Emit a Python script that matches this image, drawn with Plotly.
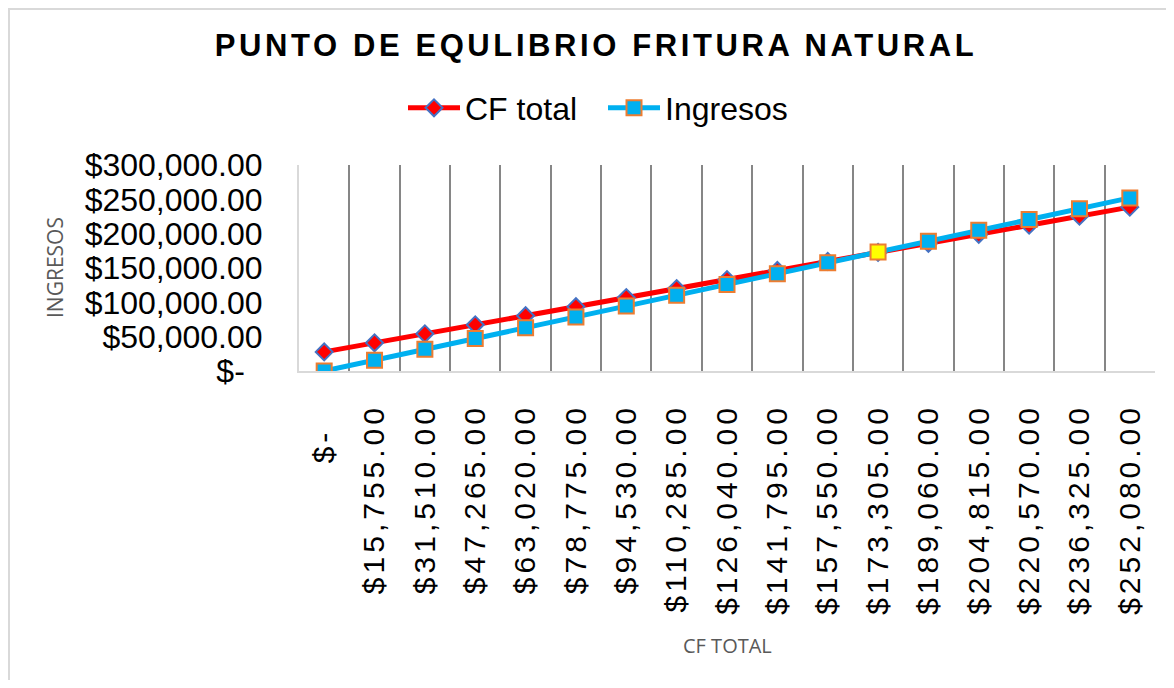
import plotly.graph_objects as go

# ---- data ----
categories = ["$-", "$15,755.00", "$31,510.00", "$47,265.00", "$63,020.00", "$78,775.00",
              "$94,530.00", "$110,285.00", "$126,040.00", "$141,795.00", "$157,550.00",
              "$173,305.00", "$189,060.00", "$204,815.00", "$220,570.00", "$236,325.00",
              "$252,080.00"]
cf_total = [27800, 41000, 54200, 67300, 80500, 93700, 106900, 120000, 133200, 146400,
            159600, 172700, 185900, 199100, 212300, 225400, 238600]
ingresos = [0, 15755, 31510, 47265, 63020, 78775, 94530, 110285, 126040, 141795,
            157550, 173305, 189060, 204815, 220570, 236325, 252080]
y_tickvals = [0, 50000, 100000, 150000, 200000, 250000, 300000]
y_ticktext = ["$-", "$50,000.00", "$100,000.00", "$150,000.00", "$200,000.00",
              "$250,000.00", "$300,000.00"]
breakeven_index = 11

FONT = "Liberation Sans, Arial, sans-serif"

ing_colors = ["#00B0F0"] * len(ingresos)
ing_colors[breakeven_index] = "#FFFF00"

x_ticktext = []
for c in categories:
    t = c + ("\u00a0\u00a0" if c == "$-" else "")
    x_ticktext.append(f"<span style='letter-spacing:4px'>{t}</span>")
y_ticktext_disp = [t + ("\u00a0\u00a0" if t == "$-" else "") for t in y_ticktext]

fig = go.Figure()
fig.add_trace(go.Scatter(
    x=categories, y=cf_total, name="CF total", mode="lines+markers",
    line=dict(color="#FF0000", width=5),
    marker=dict(symbol="diamond", size=13, color="#FF0000",
                line=dict(color="#4472C4", width=2)),
))
fig.add_trace(go.Scatter(
    x=categories, y=ingresos, name="Ingresos", mode="lines+markers",
    line=dict(color="#00B0F0", width=5),
    marker=dict(symbol="square", size=15, color=ing_colors,
                line=dict(color="#ED7D31", width=2)),
))

# page body has an 8px margin: work in screen pixels and shift
OFF = 8
W, H = 1174 - 2 * OFF, 688 - 2 * OFF
PL, PR, PT, PB = 299, 1155, 165, 371   # plot area in screen pixels
L = PL - OFF
R = W - (PR - OFF)
T = PT - OFF
B = H - (PB - OFF)


def sx(px):
    return (px - PL) / (PR - PL)


def sy(py):
    return (PB - py) / (PB - PT)


fig.update_layout(
    width=W, height=H,
    margin=dict(l=L, r=R, t=T, b=B, autoexpand=False),
    paper_bgcolor="white", plot_bgcolor="white",
    font=dict(family=FONT, color="#000000"),
    title=dict(
        text="<span style='letter-spacing:3.6px'>PUNTO DE EQULIBRIO FRITURA NATURAL</span>",
        font=dict(family=FONT, size=31, color="#000000", weight="bold"),
        x=(596 - OFF) / W, xanchor="center", xref="container",
        y=1 - (45 - OFF) / H, yanchor="middle", yref="container",
    ),
    showlegend=True,
    legend=dict(
        orientation="h", x=sx(603), xanchor="center",
        y=sy(108), yanchor="middle",
        font=dict(family=FONT, size=32, color="#000000"),
        bgcolor="rgba(0,0,0,0)",
        itemwidth=52, entrywidth=133, entrywidthmode="pixels",
    ),
    xaxis=dict(
        type="category", range=[-0.5, len(categories) - 0.5],
        tickson="boundaries", showgrid=True, gridcolor="#868686", gridwidth=2,
        ticks="", tickmode="array", tickvals=categories, ticktext=x_ticktext,
        tickangle=-90, tickfont=dict(family=FONT, size=30, color="#000000"),
        ticklabelstandoff=19,
        showline=True, linecolor="#D9D9D9", linewidth=2,
        zeroline=False, automargin=False, fixedrange=True,
    ),
    yaxis=dict(
        range=[0, 300000], showgrid=False, zeroline=False,
        tickmode="array", tickvals=y_tickvals, ticktext=y_ticktext_disp,
        tickfont=dict(family=FONT, size=32, color="#000000"),
        ticks="", ticklabelstandoff=28,
        showline=True, linecolor="#D9D9D9", linewidth=2,
        automargin=False, fixedrange=True,
    ),
    annotations=[
        dict(text="CF TOTAL", xref="paper", yref="paper",
             x=sx(727), y=sy(645),
             xanchor="center", yanchor="middle", showarrow=False,
             font=dict(family="Open Sans, sans-serif", size=20, color="#595959")),
        dict(text="INGRESOS", xref="paper", yref="paper",
             x=sx(55), y=sy(268), textangle=-90,
             xanchor="center", yanchor="middle", showarrow=False,
             font=dict(family="Open Sans, sans-serif", size=21, color="#595959")),
    ],
    shapes=[
        dict(type="rect", xref="paper", yref="paper",
             x0=sx(OFF + 1), x1=sx(1200),
             y0=sy(720), y1=sy(OFF + 1),
             line=dict(color="#D9D9D9", width=2), fillcolor="rgba(0,0,0,0)",
             layer="below"),
    ],
)

fig.write_html("out.html")
